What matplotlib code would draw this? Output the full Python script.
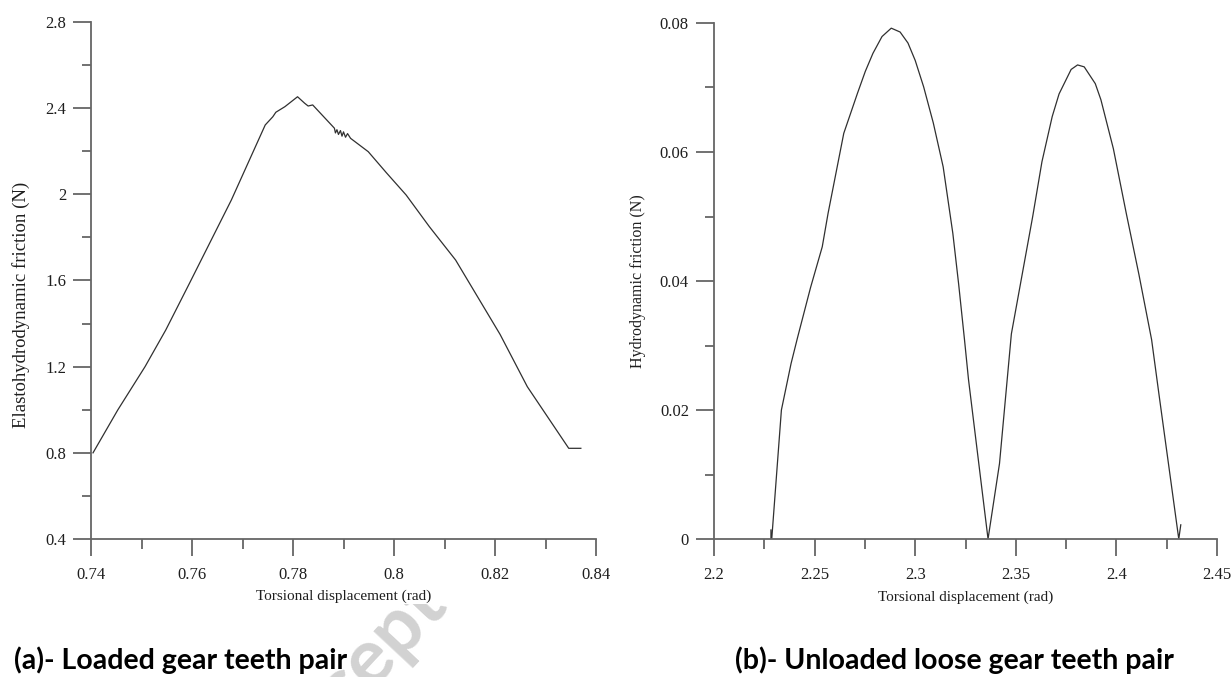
import matplotlib
matplotlib.use("Agg")
import matplotlib.pyplot as plt
from matplotlib.patches import Rectangle
import math

# ---------------- data ----------------
# (a) loaded gear teeth pair: elastohydrodynamic friction
left_x = [0.7404, 0.7453, 0.7507, 0.7548, 0.7595, 0.7678, 0.7745, 0.7760, 0.7766,
          0.7784, 0.7809, 0.7823, 0.7830, 0.7839, 0.7882, 0.7884, 0.7887, 0.7890,
          0.7894, 0.7897, 0.7900, 0.7904, 0.7908, 0.7914, 0.7949, 0.7985, 0.8024,
          0.8070, 0.8122, 0.8210, 0.8264, 0.8346, 0.8370]
left_y = [0.800, 0.999, 1.200, 1.370, 1.587, 1.974, 2.322, 2.360, 2.381,
          2.407, 2.453, 2.423, 2.410, 2.415, 2.307, 2.285, 2.300, 2.278,
          2.296, 2.270, 2.290, 2.265, 2.282, 2.260, 2.198, 2.100, 1.997,
          1.850, 1.695, 1.350, 1.107, 0.821, 0.821]

# (b) unloaded loose gear teeth pair: hydrodynamic friction
right_x = [2.2283, 2.2283, 2.2287, 2.2335, 2.2383, 2.2415, 2.2480, 2.2538, 2.2567,
           2.2606, 2.2645, 2.2713, 2.2752, 2.2790, 2.2835, 2.2881, 2.2925, 2.2964,
           2.3000, 2.3042, 2.3090, 2.3139, 2.3187, 2.3216, 2.3245, 2.3265, 2.3362,
           2.3419, 2.3478, 2.3584, 2.3630, 2.3681, 2.3715, 2.3775, 2.3807, 2.3840,
           2.3895, 2.3923, 2.3985, 2.4049, 2.4112, 2.4175, 2.4213, 2.4310, 2.4320]
right_y = [0.0014, 0.0, 0.0, 0.0200, 0.0272, 0.0312, 0.0390, 0.0453, 0.0505,
           0.0567, 0.0629, 0.0691, 0.0725, 0.0753, 0.0779, 0.0792, 0.0786, 0.0769,
           0.0742, 0.0701, 0.0645, 0.0577, 0.0474, 0.0395, 0.0309, 0.0247, 0.0,
           0.0117, 0.0318, 0.0500, 0.0585, 0.0655, 0.0690, 0.0728, 0.0735, 0.0732,
           0.0706, 0.0681, 0.0605, 0.0505, 0.0410, 0.0309, 0.0221, 0.0, 0.0022]

left_xticks = [0.74, 0.76, 0.78, 0.80, 0.82, 0.84]
left_xticklabels = ["0.74", "0.76", "0.78", "0.8", "0.82", "0.84"]
left_xminor = [0.75, 0.77, 0.79, 0.81, 0.83]
left_yticks = [0.4, 0.8, 1.2, 1.6, 2.0, 2.4, 2.8]
left_yticklabels = ["0.4", "0.8", "1.2", "1.6", "2", "2.4", "2.8"]
left_yminor = [0.6, 1.0, 1.4, 1.8, 2.2, 2.6]

right_xticks = [2.2, 2.25, 2.3, 2.35, 2.4, 2.45]
right_xticklabels = ["2.2", "2.25", "2.3", "2.35", "2.4", "2.45"]
right_xminor = [2.225, 2.275, 2.325, 2.375, 2.425]
right_yticks = [0.0, 0.02, 0.04, 0.06, 0.08]
right_yticklabels = ["0", "0.02", "0.04", "0.06", "0.08"]
right_yminor = [0.01, 0.03, 0.05, 0.07]

xlabel = "Torsional displacement (rad)"
left_ylabel = "Elastohydrodynamic friction (N)"
right_ylabel = "Hydrodynamic friction (N)"
caption_a = "(a)- Loaded gear teeth pair"
caption_b = "(b)- Unloaded loose gear teeth pair"
watermark = "Accepted manuscript"

# ---------------- figure ----------------
W, H = 1231, 677
fig = plt.figure(figsize=(W / 100, H / 100), dpi=100)
fig.patch.set_facecolor("white")

SERIF = ["Liberation Serif", "DejaVu Serif"]
AXCOL = "#666666"
TXTCOL = "#1e1e1e"
LINECOL = "#303030"

# watermark (mostly hidden behind the chart panels)
renderer = fig.canvas.get_renderer()
wm_kw = dict(fontsize=56, fontweight="bold", family=["Lato", "DejaVu Sans"],
             color="#d2d2d2")
tmp = fig.text(0, 0, "Acc", **wm_kw)
wpre = tmp.get_window_extent(renderer).width
tmp.remove()
ang = 47
ex, ey = 372, 677 - 692  # display px position where the "e" should start
sx = ex - wpre * math.cos(math.radians(ang))
sy = ey - wpre * math.sin(math.radians(ang))
fig.text(sx / W, sy / H, watermark, rotation=ang, rotation_mode="anchor",
         ha="left", va="baseline", zorder=0, clip_on=True, **wm_kw)
# white panels of the two chart images
fig.patches.append(Rectangle((0, 1 - 604 / H), 612 / W, 604 / H,
                             transform=fig.transFigure, facecolor="white",
                             edgecolor="none", zorder=0.5))
fig.patches.append(Rectangle((612 / W, 1 - 604 / H), 1 - 612 / W, (604 - 12) / H,
                             transform=fig.transFigure, facecolor="white",
                             edgecolor="none", zorder=0.5))


def style_axes(ax, xlim, ylim, xt, xtl, xm, yt, ytl, ym):
    ax.set_facecolor("none")
    ax.set_xlim(*xlim)
    ax.set_ylim(*ylim)
    for s in ("top", "right"):
        ax.spines[s].set_visible(False)
    for s in ("left", "bottom"):
        ax.spines[s].set_color(AXCOL)
        ax.spines[s].set_linewidth(1.3)
    ax.set_xticks(xt)
    ax.set_xticklabels(xtl)
    ax.set_xticks(xm, minor=True)
    ax.set_yticks(yt)
    ax.set_yticklabels(ytl)
    ax.set_yticks(ym, minor=True)
    ax.tick_params(axis="x", which="major", direction="out", length=12.5,
                   width=1.3, color=AXCOL, pad=8, labelsize=12,
                   labelcolor=TXTCOL)
    ax.tick_params(axis="x", which="minor", direction="out", length=7,
                   width=1.3, color=AXCOL)
    ax.tick_params(axis="y", which="major", direction="out", length=13,
                   width=1.3, color=AXCOL, pad=5, labelsize=12,
                   labelcolor=TXTCOL)
    ax.tick_params(axis="y", which="minor", direction="out", length=6.5,
                   width=1.3, color=AXCOL)
    for lab in ax.get_xticklabels() + ax.get_yticklabels():
        lab.set_family(SERIF)


axL = fig.add_axes([91 / W, 1 - 539 / H, 505 / W, 517 / H], zorder=1)
style_axes(axL, (0.74, 0.84), (0.4, 2.8), left_xticks, left_xticklabels,
           left_xminor, left_yticks, left_yticklabels, left_yminor)
axL.plot(left_x, left_y, color=LINECOL, lw=0.9, solid_joinstyle="round")
axL.set_xlabel(xlabel, family=SERIF, fontsize=11, color=TXTCOL)
axL.xaxis.set_label_coords(0.5, (539 - 590) / 517)
axL.set_ylabel(left_ylabel, family=SERIF, fontsize=13.5, color=TXTCOL, va="center")
axL.yaxis.set_label_coords((21 - 91) / 505, (539 - 305) / 517)

axR = fig.add_axes([714 / W, 1 - 539 / H, 503 / W, 516 / H], zorder=1)
style_axes(axR, (2.2, 2.45), (0.0, 0.08), right_xticks, right_xticklabels,
           right_xminor, right_yticks, right_yticklabels, right_yminor)
axR.plot(right_x, right_y, color=LINECOL, lw=0.9, solid_joinstyle="round")
axR.set_xlabel(xlabel, family=SERIF, fontsize=11, color=TXTCOL)
axR.xaxis.set_label_coords(0.5, (539 - 591) / 516)
axR.set_ylabel(right_ylabel, family=SERIF, fontsize=11.5, color=TXTCOL, va="center")
axR.yaxis.set_label_coords((638 - 714) / 503, 0.5)

cap_kw = dict(fontsize=20.5, fontweight="bold", family=["Lato", "DejaVu Sans"],
              color="black", va="baseline", ha="left", zorder=2)
fig.text(14 / W, 1 - 669 / H, caption_a, **cap_kw)
fig.text(735 / W, 1 - 669 / H, caption_b, **cap_kw)

fig.savefig("out.png", dpi=100, facecolor="white")
